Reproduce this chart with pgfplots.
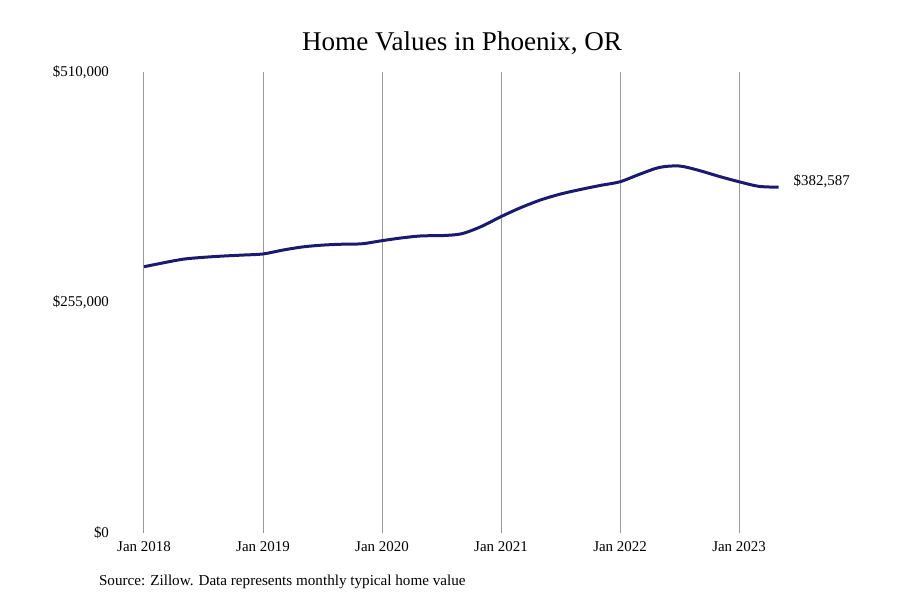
\documentclass[border=0pt]{standalone}
\usepackage{pgfplots}
\pgfplotsset{compat=1.18}
\usepackage{fontspec}
\setmainfont{Liberation Serif}
\definecolor{navyline}{HTML}{1C1A6E}
\definecolor{gridgray}{HTML}{9A9A9A}
\begin{document}
\begin{tikzpicture}
\useasboundingbox (-72bp,-33.5bp) rectangle (378bp,266.5bp);
\begin{axis}[
  at={(0,0)}, anchor=south west,
  scale only axis,
  width=317.35bp, height=230.5bp,
  xmin=0, xmax=64, ymin=0, ymax=510000,
  axis line style={draw=none},
  major tick length=0pt,
  scaled y ticks=false,
  xtick={0,12,24,36,48,60},
  xticklabels={Jan 2018,Jan 2019,Jan 2020,Jan 2021,Jan 2022,Jan 2023},
  ytick={0,255000,510000},
  yticklabels={\$0,\$255{,}000,\$510{,}000},
  x tick label style={font=\fontsize{7.5}{9}\selectfont, anchor=north, yshift=-1bp},
  y tick label style={font=\fontsize{7.5}{9}\selectfont, anchor=east, xshift=-14bp},
  xmajorgrids=true,
  grid style={gridgray, line width=0.5bp},
  clip=false,
]
\addplot[navyline, line width=1.5bp, smooth, tension=0.5] coordinates {
(0,294600) (2,299000) (4,303000) (6,305000) (8,306400) (10,307500)
(12,308700) (14,313000) (16,316500) (18,318500) (20,319500) (22,320000)
(24,323400) (26,326500) (28,328700) (30,329000) (32,331000) (34,339000)
(36,350000) (38,360000) (40,368500) (42,375000) (44,380000) (46,384500)
(48,388600) (50,397000) (52,404500) (54,406000) (56,401000) (58,394500)
(60,388600) (62,383500) (64,382587)
};
\node[anchor=west, font=\fontsize{7.5}{9}\selectfont, xshift=4bp, yshift=3bp] at (axis cs:64,382587) {\$382,587};
\end{axis}
\node[font=\fontsize{13.6}{16}\selectfont] at (159bp,245bp) {Home Values in Phoenix, OR};
\node[anchor=west, font=\fontsize{7.6}{9}\selectfont] at (-26bp,-24.4bp) {Source: Zillow. Data represents monthly typical home value};
\end{tikzpicture}
\end{document}
